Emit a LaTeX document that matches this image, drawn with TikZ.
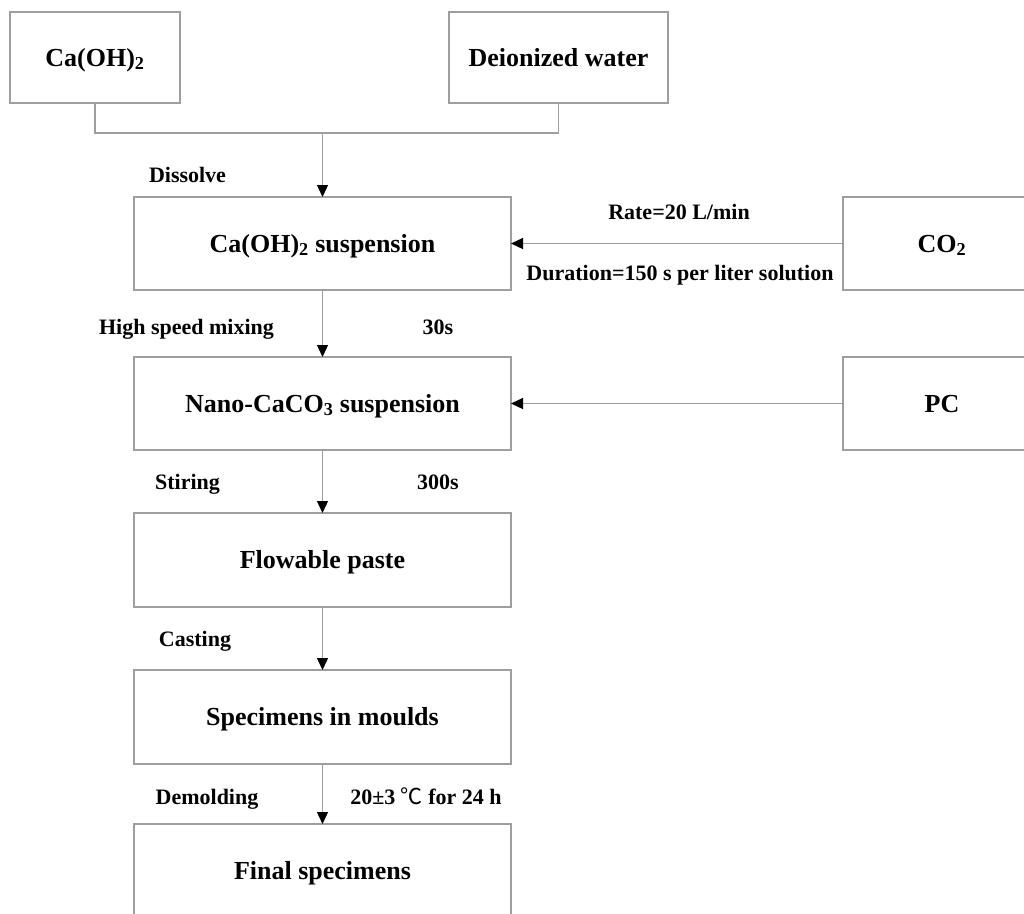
\documentclass[tikz,border=0pt]{standalone}
\usepackage{fontspec}
\setmainfont{Liberation Serif}
\newfontfamily\cjkfont{Noto Sans CJK SC}
\usetikzlibrary{arrows.meta}
\definecolor{lg}{RGB}{158,158,158}
\newcommand\bxfont{\fontsize{26}{30}\selectfont\bfseries}
\newcommand\lbfont{\fontsize{22}{26}\selectfont\bfseries}
\begin{document}
\begin{tikzpicture}[x=1pt,y=-1pt,
  pbox/.style={draw=lg, line width=1.3pt, inner sep=0pt, outer sep=0pt,
    font=\bxfont, text height=17.2pt, text depth=0pt, align=center},
  lbl/.style={inner sep=0pt, font=\lbfont, text height=14.6pt, text depth=0pt},
  ln/.style={draw=lg, line width=1.3pt},
  arr/.style={-{Triangle[length=12pt,width=11pt,color=black]}}
]
\useasboundingbox (0,0) rectangle (1024,913);
\clip (0,0) rectangle (1024,913);

% boxes
\node[pbox, minimum width=170pt, minimum height=91pt] (ca) at (95,57.5) {Ca(OH)\textsubscript{2}};
\node[pbox, minimum width=219pt, minimum height=91pt] (dw) at (558.5,57.5) {Deionized water};
\node[pbox, minimum width=377pt, minimum height=93pt] (susp) at (322.5,243.5) {Ca(OH)\textsubscript{2} suspension};
\node[pbox, minimum width=198pt, minimum height=93pt] (co2) at (942,243.5) {CO\textsubscript{2}};
\node[pbox, minimum width=377pt, minimum height=93pt] (nano) at (322.5,403.5) {Nano-CaCO\textsubscript{3} suspension};
\node[pbox, minimum width=198pt, minimum height=93pt] (pc) at (942,403.5) {PC};
\node[pbox, minimum width=377pt, minimum height=94pt] (flow) at (322.5,560) {Flowable paste};
\node[pbox, minimum width=377pt, minimum height=94pt] (spec) at (322.5,717) {Specimens in moulds};
\node[pbox, minimum width=377pt, minimum height=94pt] (final) at (322.5,871) {Final specimens};

% connectors
\coordinate (j) at (322.5,133);
\draw[ln] (ca.south) |- (j);
\draw[ln] (dw.south) |- (j);
\draw[ln, arr] (j) -- (susp.north);
\draw[ln, arr] (susp.south) -- (nano.north);
\draw[ln, arr] (nano.south) -- (flow.north);
\draw[ln, arr] (flow.south) -- (spec.north);
\draw[ln, arr] (spec.south) -- (final.north);
\draw[ln, arr] (co2.west) -- (susp.east);
\draw[ln, arr] (pc.west) -- (nano.east);

% labels
\node[lbl] (l1) at (187.5,175) {Dissolve};
\node[lbl] (l2) at (679,212) {Rate=20 L/min};
\node[lbl] (l3) at (680,273.5) {Duration=150 s per liter solution};
\node[lbl] (l4) at (186.5,327.5) {High speed mixing};
\node[lbl] (l5) at (438,327.5) {30s};
\node[lbl] (l6) at (187.5,482.5) {Stiring};
\node[lbl] (l7) at (438,482.5) {300s};
\node[lbl] (l8) at (195,639.5) {Casting};
\node[lbl] (l9) at (207,797.5) {Demolding};
\node[lbl] (l10) at (426,797.5) {20\textpm3 {\cjkfont\mdseries ℃} for 24 h};
\end{tikzpicture}
\end{document}
